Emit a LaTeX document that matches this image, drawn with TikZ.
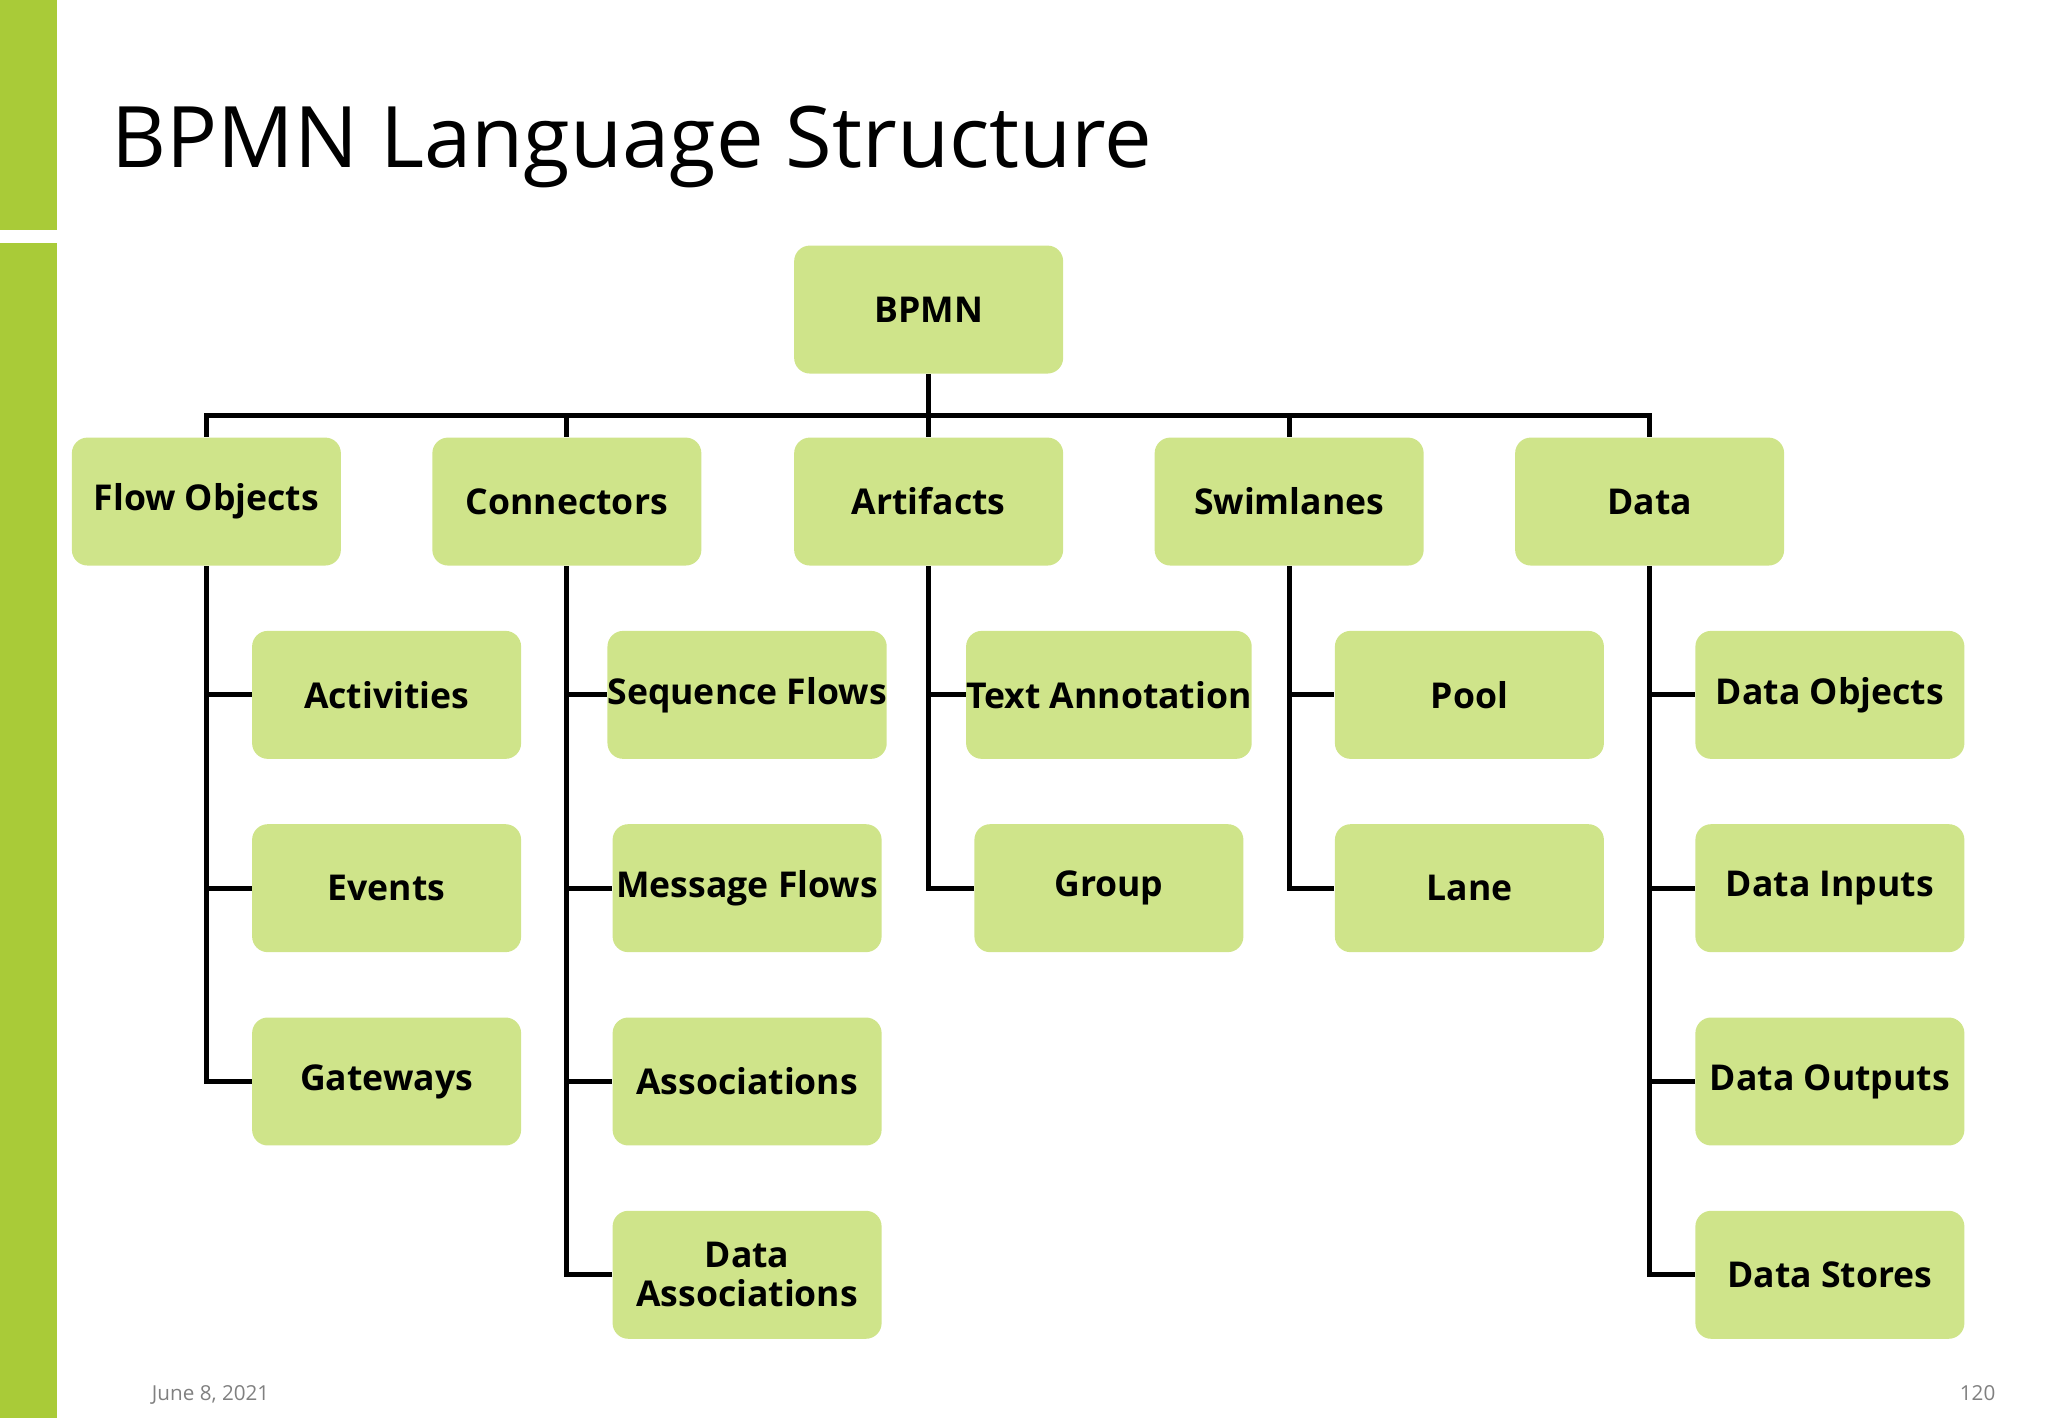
\documentclass[tikz,border=0pt]{standalone}
\usepackage{fontspec}
\setmainfont{Open Sans}
\usetikzlibrary{positioning}
\definecolor{barGreen}{HTML}{A9CB38}
\definecolor{boxGreen}{HTML}{CFE48A}
\tikzset{
  box/.style={fill=boxGreen, rounded corners=0.24cm, minimum width=4.12cm, minimum height=1.96cm,
    align=center, font=\fontsize{15.5}{17}\selectfont\bfseries, inner sep=0pt},
  link/.style={line width=2.2pt}
}
\begin{document}
\begin{tikzpicture}[x=0.02cm,y=-0.02cm]
\useasboundingbox (0,0) rectangle (1568,1086);
%side bar
\fill[barGreen] (0,0) rectangle (44,176);
\fill[barGreen] (0,186) rectangle (44,1086);
\node[anchor=base west, font=\fontsize{37}{40}\selectfont, inner sep=0pt] (title) at (85,128) {BPMN Language Structure};
%root and first level
\node[box] (bpmn) at (711,237) {BPMN};
\node[box] (fo) at (158,384) {Flow Objects};
\node[box] (con) at (434,384) {Connectors};
\node[box] (art) at (711,384) {Artifacts};
\node[box] (swim) at (987,384) {Swimlanes};
\node[box] (data) at (1263,384) {Data};
%Flow Objects
\node[box] (act) at (296,532) {Activities};
\node[box] (evt) at (296,680) {Events};
\node[box] (gw) at (296,828) {Gateways};
%Connectors
\node[box] (seq) at (572,532) {Sequence Flows};
\node[box] (msg) at (572,680) {Message Flows};
\node[box] (asc) at (572,828) {Associations};
\node[box] (dasc) at (572,976) {Data\\Associations};
%Artifacts
\node[box] (txt) at (849,532) {Text Annotation};
\node[box] (grp) at (849,680) {Group};
%Swimlanes
\node[box] (pool) at (1125,532) {Pool};
\node[box] (lane) at (1125,680) {Lane};
%Data
\node[box] (dobj) at (1401,532) {Data Objects};
\node[box] (din) at (1401,680) {Data Inputs};
\node[box] (dout) at (1401,828) {Data Outputs};
\node[box] (dst) at (1401,976) {Data Stores};
%links
\foreach \n in {fo,con,art,swim,data}
  \draw[link] (bpmn.south) -- ++(0,32) -| (\n.north);
\foreach \p/\c in {fo/act,fo/evt,fo/gw,con/seq,con/msg,con/asc,con/dasc,
                   art/txt,art/grp,swim/pool,swim/lane,
                   data/dobj,data/din,data/dout,data/dst}
  \draw[link] (\p.south) |- (\c.west);
%footer
\node[anchor=base west, font=\fontsize{9}{10}\selectfont, text=gray, inner sep=0pt] (date) at (116,1072) {June 8, 2021};
\node[anchor=base east, font=\fontsize{9}{10}\selectfont, text=gray, inner sep=0pt] (page) at (1528,1072) {120};
\end{tikzpicture}
\end{document}
